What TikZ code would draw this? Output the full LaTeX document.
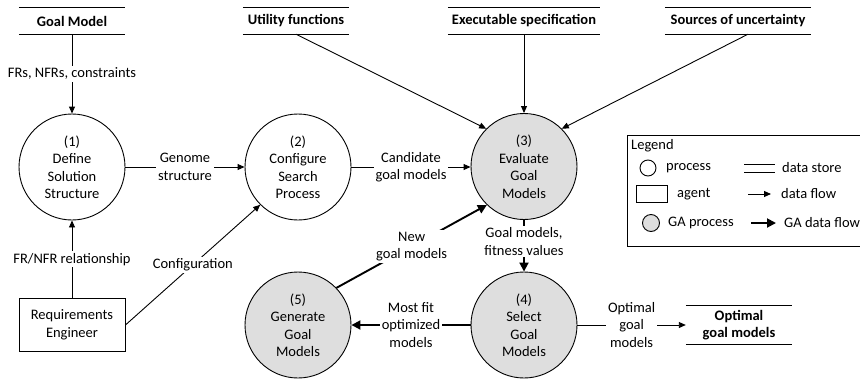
\documentclass[tikz,border=0pt]{standalone}
\usepackage{fontspec}
\setmainfont{Carlito}
\usetikzlibrary{arrows.meta}
\definecolor{gafill}{RGB}{222,222,222}
\tikzset{
  proc/.style={circle, draw, line width=0.9pt, minimum size=106pt, inner sep=0pt, align=center},
  gaproc/.style={proc, fill=gafill},
  agentbox/.style={draw, line width=0.9pt, minimum width=106pt, minimum height=53pt, inner sep=0pt, align=center},
  store/.style={minimum width=106pt, minimum height=26pt, inner ysep=0pt, inner xsep=4pt, align=center, font=\fontsize{14.5}{17.5}\selectfont\bfseries},
  storeline/.style={line width=0.9pt},
  flow/.style={line width=0.9pt, -{Triangle[length=7pt,width=6pt]}},
  gaflow/.style={line width=1.9pt, -{Triangle[length=9pt,width=9pt]}},
  lbl/.style={fill=white, inner sep=2pt, align=center},
}
\begin{document}
\begin{tikzpicture}[x=1pt, y=-1pt, font=\fontsize{14.5}{17.5}\selectfont]
\useasboundingbox (0,0) rectangle (860,378);

% data stores
\node[store] (gm) at (72,21) {Goal Model};
\node[store] (uf) at (296,21) {Utility functions};
\node[store] (es) at (524,21) {Executable specification};
\node[store, minimum width=146pt] (su) at (738,21) {Sources of uncertainty};
\node[store, minimum height=39pt] (og) at (739,325) {Optimal\\goal models};
\foreach \s in {gm,uf,es,su,og}{
  \draw[storeline] (\s.north west) -- (\s.north east);
  \draw[storeline] (\s.south west) -- (\s.south east);
}

% processes
\node[proc] (c1) at (72,167) {(1)\\Define\\Solution\\Structure};
\node[proc] (c2) at (298,167) {(2)\\Configure\\Search\\Process};
\node[gaproc] (c3) at (524,166.5) {(3)\\Evaluate\\Goal\\Models};
\node[gaproc] (c4) at (524,325) {(4)\\Select\\Goal\\Models};
\node[gaproc] (c5) at (298,325) {(5)\\Generate\\Goal\\Models};

% agent
\node[agentbox] (re) at (72,325) {Requirements\\Engineer};

% data flows
\draw[flow] (gm.south) -- node[lbl]{FRs, NFRs, constraints} (c1.north);
\draw[flow] (c1.east) -- node[lbl]{Genome\\structure} (c2.west);
\draw[flow] (c2.east) -- node[lbl]{Candidate\\goal models} (c3.west |- c2.east);
\draw[flow] (uf.south) -- (c3.135);
\draw[flow] (es.south) -- (c3.north);
\draw[flow] ([xshift=10pt]su.south) -- (c3.45);
\draw[flow] (re.north) -- node[lbl]{FR/NFR relationship} (c1.south);
\draw[flow] (re.east) -- node[lbl]{Configuration} (c2.225);
\draw[flow] (c4.east) -- node[lbl]{Optimal\\goal\\models} (og.west);

% GA data flows
\draw[gaflow] (c3.south) -- node[lbl, pos=0.42]{Goal models,\\fitness values} (c4.north);
\draw[gaflow] (c4.west) -- node[lbl]{Most fit\\optimized\\models} (c5.east);
\draw[gaflow] (c5.44) -- node[lbl]{New\\goal models} (c3.226);

% legend
\draw[line width=0.9pt] (627,135) rectangle (866,246);
\node[anchor=west, inner sep=0pt] (lgt) at (631,146) {Legend};
\node[circle, draw, line width=0.9pt, minimum size=16pt, inner sep=0pt] (lp) at (648,168) {};
\node[anchor=west, inner sep=0pt] (lpt) at (666,168) {process};
\node[draw, line width=0.9pt, minimum width=31pt, minimum height=17pt, inner sep=0pt] (la) at (651.5,194) {};
\node[anchor=west, inner sep=0pt] (lat) at (677,194) {agent};
\node[circle, draw, fill=gafill, line width=0.9pt, minimum size=17pt, inner sep=0pt] (lg) at (651,223) {};
\node[anchor=west, inner sep=0pt] (lgt2) at (668,223) {GA process};
\coordinate (ds1) at (744,164.5);
\coordinate (ds2) at (775,164.5);
\coordinate (ds3) at (744,172.5);
\coordinate (ds4) at (775,172.5);
\draw[storeline] (ds1) -- (ds2);
\draw[storeline] (ds3) -- (ds4);
\node[anchor=west, inner sep=0pt] (ldst) at (782,168) {data store};
\coordinate (df1) at (748,194);
\coordinate (df2) at (771,194);
\draw[flow] (df1) -- (df2);
\node[anchor=west, inner sep=0pt] (ldft) at (781,194) {data flow};
\coordinate (gf1) at (751,223);
\coordinate (gf2) at (776,223);
\draw[gaflow] (gf1) -- (gf2);
\node[anchor=west, inner sep=0pt] (lgft) at (784,223) {GA data flow};
\end{tikzpicture}
\end{document}
